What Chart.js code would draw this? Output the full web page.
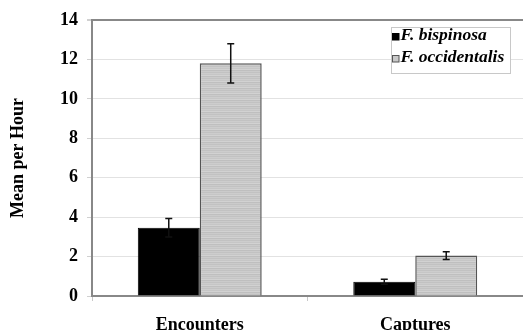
<!DOCTYPE html>
<html><head><meta charset="utf-8">
<script src="https://cdn.jsdelivr.net/npm/chart.js@4.4.0/dist/chart.umd.min.js"></script>
<style>html,body{margin:0;padding:0;background:#fff;overflow:hidden;}</style>
</head><body>
<canvas id="c" width="523" height="330"></canvas>
<script>
const categories = ['Encounters', 'Captures'];
const seriesNames = ['F. bispinosa', 'F. occidentalis'];
const bispinosaMeans = [3.46, 0.72];
const bispinosaErrors = [0.47, 0.13];
const occidentalisMeans = [11.8, 2.05];
const occidentalisErrors = [1.0, 0.2];
const yTicks = [0, 2, 4, 6, 8, 10, 12, 14];
const yTitle = 'Mean per Hour';

const SERIF = '"Liberation Serif", "Times New Roman", serif';

function makePattern() {
  const p = document.createElement('canvas');
  p.width = 4; p.height = 6;
  const g = p.getContext('2d');
  const rows = ['#c2c2c2', '#cdcdcd', '#c6c6c6', '#d2d2d2', '#bfbfbf', '#cbcbcb'];
  rows.forEach((c, i) => { g.fillStyle = c; g.fillRect(0, i, 4, 1); });
  return document.getElementById('c').getContext('2d').createPattern(p, 'repeat');
}

const errorBars = {
  id: 'errorBars',
  afterDatasetsDraw(chart) {
    const ctx = chart.ctx, y = chart.scales.y;
    chart.data.datasets.forEach((ds, i) => {
      const meta = chart.getDatasetMeta(i);
      meta.data.forEach((bar, j) => {
        const v = ds.data[j], e = ds.errors[j];
        const x = bar.x, yt = y.getPixelForValue(v + e), yb = y.getPixelForValue(v - e);
        ctx.save();
        ctx.strokeStyle = '#111'; ctx.lineWidth = 1.5;
        ctx.beginPath();
        ctx.moveTo(x, yt); ctx.lineTo(x, yb);
        ctx.moveTo(x - 3.5, yt); ctx.lineTo(x + 3.5, yt);
        ctx.moveTo(x - 3.5, yb); ctx.lineTo(x + 3.5, yb);
        ctx.stroke();
        ctx.restore();
      });
    });
  }
};

const boxLegend = {
  id: 'boxLegend',
  afterDraw(chart) {
    const ctx = chart.ctx, a = chart.chartArea;
    const bx = a.right - 132, by = a.top + 7, bw = 119, bh = 46;
    ctx.save();
    ctx.fillStyle = '#fff';
    ctx.fillRect(bx, by, bw, bh);
    ctx.strokeStyle = '#c8c8c8'; ctx.lineWidth = 1;
    ctx.strokeRect(bx + 0.5, by + 0.5, bw, bh);
    ctx.font = 'italic bold 17.5px ' + SERIF;
    ctx.textBaseline = 'alphabetic';
    chart.data.datasets.forEach((ds, i) => {
      const base = by + 13 + i * 22;
      ctx.fillStyle = ds.legendColor;
      ctx.fillRect(bx + 1.5, base - 6.5, 6.5, 6.5);
      ctx.strokeStyle = ds.borderColor; ctx.lineWidth = 1;
      ctx.strokeRect(bx + 1.5, base - 6.5, 6.5, 6.5);
      ctx.fillStyle = '#000';
      ctx.fillText(ds.label, bx + 9.5, base);
    });
    ctx.restore();
  }
};

const pattern = makePattern();

new Chart(document.getElementById('c'), {
  type: 'bar',
  data: {
    labels: categories,
    datasets: [
      { label: seriesNames[0], data: bispinosaMeans, errors: bispinosaErrors,
        backgroundColor: '#000', borderColor: '#000', borderWidth: 1, legendColor: '#000' },
      { label: seriesNames[1], data: occidentalisMeans, errors: occidentalisErrors,
        backgroundColor: pattern, borderColor: '#555', borderWidth: 1.5, legendColor: '#c8c8c8' }
    ]
  },
  options: {
    responsive: false,
    animation: false,
    devicePixelRatio: 1,
    layout: { padding: { top: 20, left: 0, right: 0, bottom: 0 } },
    plugins: { legend: { display: false }, tooltip: { enabled: false } },
    datasets: { bar: { barPercentage: 1, categoryPercentage: 0.575 } },
    scales: {
      x: {
        grid: { offset: true, drawOnChartArea: false, tickLength: 5, color: '#c8c8c8' },
        border: { color: '#888', width: 2 },
        ticks: { color: '#000', font: { family: SERIF, size: 18, weight: 'bold' }, padding: 14 },
        afterFit(s) { s.height = 34; }
      },
      y: {
        min: 0, max: 14,
        afterBuildTicks(s) { s.ticks = yTicks.map(v => ({ value: v })); },
        grid: {
          color: c => (c.tick && c.tick.value === 14) ? '#888' : '#e2e2e2',
          lineWidth: c => (c.tick && c.tick.value === 14) ? 2 : 1,
          tickLength: 5,
          tickColor: '#d0d0d0'
        },
        border: { color: '#888', width: 2 },
        ticks: { color: '#000', font: { family: SERIF, size: 18, weight: 'bold' }, padding: 9 },
        title: { display: true, text: yTitle, color: '#000', font: { family: SERIF, size: 18, weight: 'bold' }, padding: { top: 8, bottom: 0 } },
        afterFit(s) { s.width = 92; }
      }
    }
  },
  plugins: [errorBars, boxLegend]
});
</script>
</body></html>
